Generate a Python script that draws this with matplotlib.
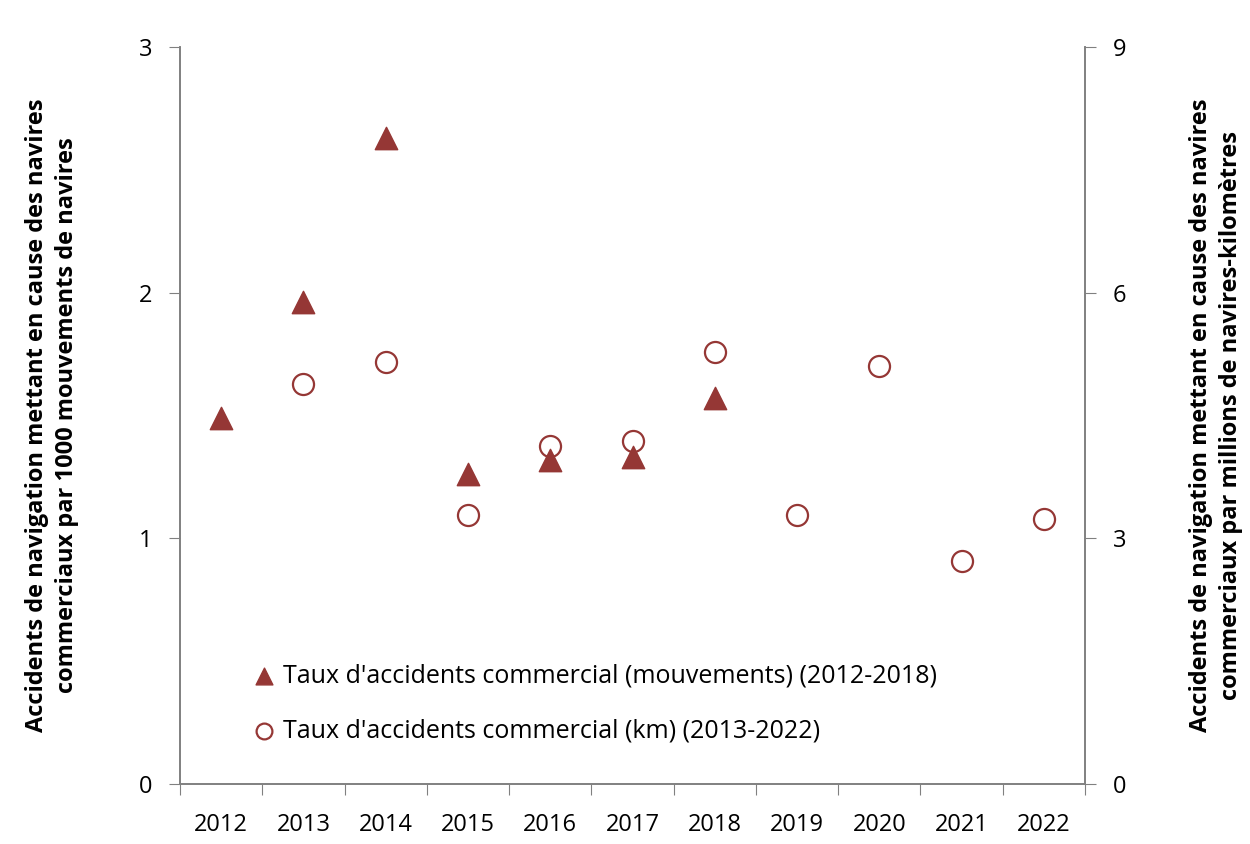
import numpy as np
import matplotlib.pyplot as plt

plt.rcParams['font.family'] = ['Open Sans', 'DejaVu Sans']

years = ['2012', '2013', '2014', '2015', '2016', '2017', '2018', '2019', '2020', '2021', '2022']

# Taux (mouvements) 2012-2018, left axis
mvt_years = ['2012', '2013', '2014', '2015', '2016', '2017', '2018']
mvt_rate = [1.49, 1.96, 2.63, 1.26, 1.32, 1.33, 1.57]

# Taux (km) 2013-2022, right axis
km_years = ['2013', '2014', '2015', '2016', '2017', '2018', '2019', '2020', '2021', '2022']
km_rate = [4.88, 5.15, 3.28, 4.13, 4.19, 5.27, 3.28, 5.10, 2.72, 3.24]

red = '#953735'
axis_col = '#808080'

fig = plt.figure(figsize=(12.5, 8.44), dpi=100)
ax = fig.add_axes([0.144, 0.0711, 0.724, 0.8732])
ax2 = ax.twinx()

xi = {y: i for i, y in enumerate(years)}

h2 = ax2.scatter([xi[y] for y in km_years], km_rate, marker='o', s=230,
                 facecolors='white', edgecolors=red, linewidths=1.6, zorder=3,
                 label="Taux d'accidents commercial (km) (2013-2022)")
h1 = ax2.scatter([xi[y] for y in mvt_years], np.array(mvt_rate) * 3, marker='^', s=260,
                 color=red, zorder=4,
                 label="Taux d'accidents commercial (mouvements) (2012-2018)")

ax.set_xlim(-0.5, len(years) - 0.5)
ax.set_ylim(0, 3)
ax2.set_ylim(0, 9)
ax.set_yticks([0, 1, 2, 3])
ax2.set_yticks([0, 3, 6, 9])

ax.set_xticks(np.arange(-0.5, len(years), 1.0))
ax.set_xticklabels([])
ax.set_xticks(np.arange(len(years)), minor=True)
ax.set_xticklabels(years, minor=True)
ax.tick_params(axis='x', which='minor', length=0, pad=21)
ax.tick_params(axis='x', which='major', length=8, direction='out', color=axis_col)

for a in (ax, ax2):
    a.spines['top'].set_visible(False)
    for s in ('left', 'right', 'bottom'):
        a.spines[s].set_color(axis_col)
        a.spines[s].set_linewidth(1.2)
    a.tick_params(axis='y', length=8, color=axis_col, labelsize=17, pad=12)
ax.tick_params(axis='x', which='both', labelsize=17)

ax.set_ylabel("Accidents de navigation mettant en cause des navires\ncommerciaux par 1000 mouvements de navires",
              fontsize=17, fontweight='bold', labelpad=43, linespacing=1.35)
ax2.set_ylabel("Accidents de navigation mettant en cause des navires\ncommerciaux par millions de navires-kilomètres",
               fontsize=17, fontweight='bold', labelpad=45, rotation=90, linespacing=1.35)

ax2.legend(handles=[h1, h2], loc='upper left', bbox_to_anchor=(0.082, 0.163),
           frameon=False, fontsize=18, handlelength=0.8, handletextpad=0.35,
           labelspacing=1.2, borderaxespad=0, borderpad=0, markerscale=0.75)

fig.savefig('out.png', dpi=100)
